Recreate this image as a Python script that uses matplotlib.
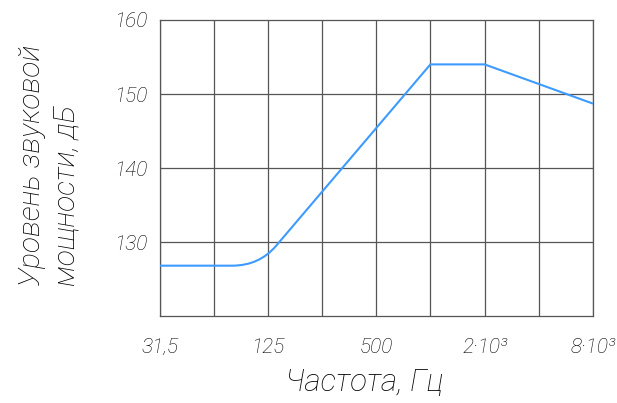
import matplotlib.pyplot as plt
import numpy as np
from matplotlib.path import Path
from matplotlib.patches import PathPatch

# octave band centres, Hz
bands = [31.5, 63, 125, 250, 500, 1000, 2000, 4000, 8000]
tick_freqs = [31.5, 125, 500, 2000, 8000]
tick_labels = ['31,5', '125', '500', '2·10³', '8·10³']

# corner points of the spectrum (Hz, dB); the first corner is rounded
corner_freq = [31.5, 112, 1000, 2000, 8000]
corner_level = [126.8, 126.8, 154.0, 154.0, 148.7]

plt.rcParams['font.family'] = ['Roboto', 'DejaVu Sans']
plt.rcParams['font.style'] = 'italic'
plt.rcParams['font.weight'] = 'light'

fig = plt.figure(figsize=(6.17, 4.03), dpi=100)
ax = fig.add_axes([160 / 617, 1 - 316 / 403, 433 / 617, 296 / 403])

ax.set_xscale('log', base=2)
ax.set_xlim(bands[0], bands[-1])
ax.set_ylim(120, 160)

# rounded knee: quadratic bezier around the second corner, in octave units
lx = np.log2(corner_freq)
back, fwd = 0.5, 0.31
slope = (corner_level[2] - corner_level[1]) / (lx[2] - lx[1])
k0 = (2 ** (lx[1] - back), corner_level[1])
k2 = (2 ** (lx[1] + fwd), corner_level[1] + slope * fwd)
verts = [(corner_freq[0], corner_level[0]), k0,
         (corner_freq[1], corner_level[1]), k2]
codes = [Path.MOVETO, Path.LINETO, Path.CURVE3, Path.CURVE3]
for f, l in zip(corner_freq[2:], corner_level[2:]):
    verts.append((f, l))
    codes.append(Path.LINETO)
ax.add_patch(PathPatch(Path(verts, codes), facecolor='none',
                       edgecolor='#3d9bff', lw=1.5, zorder=3))

for f in bands:
    ax.axvline(f, color='#555555', lw=0.9, zorder=1)
for y in [130, 140, 150]:
    ax.axhline(y, color='#555555', lw=0.9, zorder=1)
for s in ax.spines.values():
    s.set_color('#555555')
    s.set_linewidth(0.9)

ax.set_xticks(tick_freqs)
ax.set_xticklabels(tick_labels)
ax.xaxis.set_minor_locator(plt.NullLocator())
ax.set_yticks([130, 140, 150, 160])
ax.tick_params(axis='both', length=0, labelsize=15, colors='black')
ax.tick_params(axis='x', pad=16)
ax.tick_params(axis='y', pad=9)

fig.text(364 / 617, 1 - 383 / 403, 'Частота, Гц', fontsize=22.5,
         color='black', ha='center', va='center')
fig.text(49 / 617, 1 - 165 / 403, 'Уровень звуковой\nмощности, дБ',
         fontsize=21.5, color='black', rotation=90, ha='center',
         va='center', multialignment='left', linespacing=1.3)

fig.savefig('out.png', dpi=100)
